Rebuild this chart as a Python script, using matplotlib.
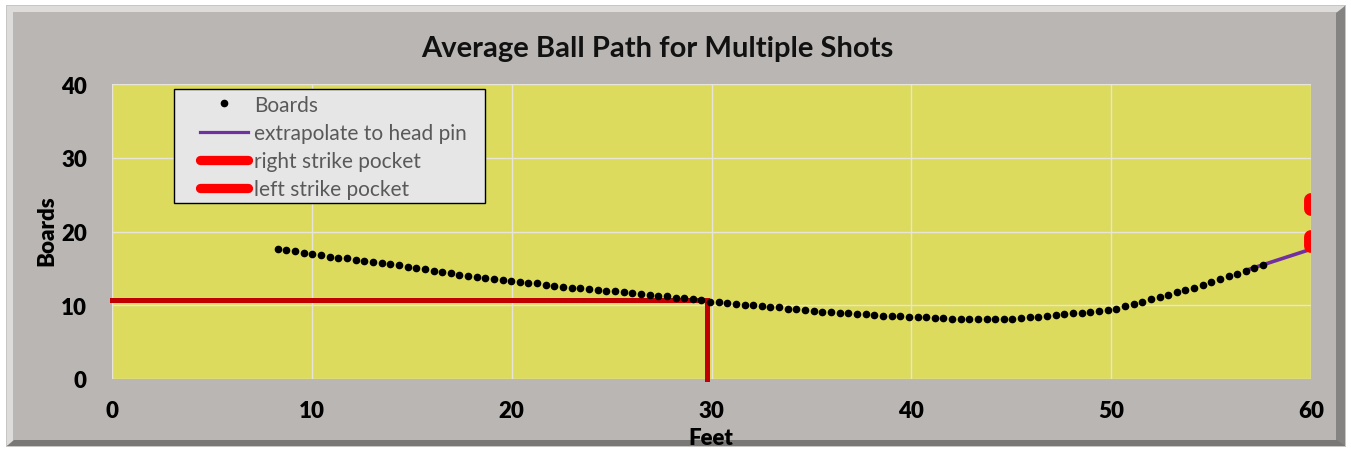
import matplotlib
matplotlib.use("Agg")
import matplotlib.pyplot as plt
from matplotlib.patches import Rectangle, Polygon
from matplotlib.transforms import IdentityTransform

# ---------------- data ----------------
feet = [8.30, 8.73, 9.17, 9.60, 10.03, 10.46, 10.90, 11.33, 11.76, 12.19,
        12.63, 13.06, 13.49, 13.92, 14.36, 14.79, 15.22, 15.65, 16.09, 16.52,
        16.95, 17.38, 17.82, 18.25, 18.68, 19.11, 19.55, 19.98, 20.41, 20.84,
        21.28, 21.71, 22.14, 22.57, 23.01, 23.44, 23.87, 24.30, 24.74, 25.17,
        25.60, 26.03, 26.47, 26.90, 27.33, 27.76, 28.20, 28.63, 29.06, 29.49,
        29.93, 30.36, 30.79, 31.22, 31.66, 32.09, 32.52, 32.95, 33.39, 33.82,
        34.25, 34.68, 35.12, 35.55, 35.98, 36.41, 36.85, 37.28, 37.71, 38.14,
        38.58, 39.01, 39.44, 39.87, 40.31, 40.74, 41.17, 41.60, 42.04, 42.47,
        42.90, 43.33, 43.77, 44.20, 44.63, 45.06, 45.50, 45.93, 46.36, 46.79,
        47.23, 47.66, 48.09, 48.52, 48.96, 49.39, 49.82, 50.25, 50.69, 51.12,
        51.55, 51.98, 52.42, 52.85, 53.28, 53.71, 54.15, 54.58, 55.01, 55.44,
        55.88, 56.31, 56.74, 57.17, 57.61]
boards = [17.60, 17.45, 17.30, 17.05, 16.90, 16.75, 16.60, 16.45, 16.35, 16.20,
          16.05, 15.90, 15.75, 15.60, 15.40, 15.20, 15.00, 14.85, 14.70, 14.55,
          14.35, 14.15, 13.95, 13.85, 13.75, 13.60, 13.45, 13.30, 13.20, 13.05,
          12.95, 12.80, 12.65, 12.50, 12.40, 12.30, 12.20, 12.05, 12.00, 11.90,
          11.80, 11.65, 11.55, 11.40, 11.30, 11.20, 11.05, 10.95, 10.80, 10.65,
          10.50, 10.40, 10.30, 10.20, 10.10, 10.00, 9.90, 9.80, 9.70, 9.55,
          9.45, 9.35, 9.25, 9.15, 9.10, 9.00, 8.90, 8.80, 8.75, 8.70,
          8.60, 8.55, 8.50, 8.45, 8.40, 8.35, 8.30, 8.25, 8.20, 8.15,
          8.15, 8.10, 8.15, 8.10, 8.15, 8.20, 8.25, 8.35, 8.45, 8.55,
          8.65, 8.80, 8.90, 9.00, 9.10, 9.25, 9.35, 9.55, 9.85, 10.15,
          10.45, 10.80, 11.10, 11.40, 11.75, 12.10, 12.40, 12.75, 13.10, 13.55,
          13.95, 14.30, 14.70, 15.10, 15.50]

extrap_feet = [56.7, 60.0]
extrap_boards = [14.7, 17.6]

right_pocket_feet = [60.0, 60.0]
right_pocket_boards = [18.0, 19.3]
left_pocket_feet = [60.0, 60.0]
left_pocket_boards = [23.0, 24.3]

target_feet = [0.0, 29.75, 29.75]
target_boards = [10.7, 10.7, 0.0]

x_ticks = [0, 10, 20, 30, 40, 50, 60]
y_ticks = [0, 10, 20, 30, 40]

title = "Average Ball Path for Multiple Shots"
x_label = "Feet"
y_label = "Boards"

# ---------------- style ----------------
W, H = 1351, 452
FONT = "Lato"
GRAY = "#bab6b4"
YELLOW = "#dcdb5e"

fig = plt.figure(figsize=(W / 100, H / 100), dpi=100)
fig.patch.set_facecolor("white")

ident = IdentityTransform()


def rect(x0, y0, x1, y1, color, z=0, edge="none", lw=0):
    p = Rectangle((x0, H - y1), x1 - x0, y1 - y0, transform=ident,
                  facecolor=color, edgecolor=edge, linewidth=lw, zorder=z)
    fig.patches.append(p)
    return p


def poly(pts, color, z=0):
    p = Polygon([(x, H - y) for x, y in pts], closed=True, transform=ident,
                facecolor=color, edgecolor="none", zorder=z)
    fig.patches.append(p)


# frame with bevel
rect(6, 6, 1346, 448, "#c8c6c5", z=0)
poly([(7, 7), (1345, 7), (1332, 20), (20, 20), (20, 435), (7, 447)], "#dedcdb", z=1)
poly([(1345, 7), (1345, 447), (7, 447), (20, 440), (1336, 440), (1336, 20)], "#6f6d6c", z=1)
rect(13, 13, 1339, 443, GRAY, z=1.5)
poly([(1336, 14), (1345, 7), (1345, 447), (1336, 441)], "#858382", z=1.8)
poly([(14, 441), (7, 447), (1345, 447), (1337, 441)], "#7a7877", z=1.8)
rect(14, 14, 1336, 441, GRAY, z=2)

ax = fig.add_axes([112 / W, 1 - 380 / H, (1311 - 112) / W, (380 - 85) / H])
ax.set_facecolor(YELLOW)
ax.set_zorder(5)

ax.set_xlim(0, 60)
ax.set_ylim(0, 40)
ax.set_xticks(x_ticks)
ax.set_yticks(y_ticks)
ax.grid(True, color="#e8e5d8", linewidth=1.0, zorder=0)
ax.set_axisbelow(True)
for s in ax.spines.values():
    s.set_visible(False)
ax.tick_params(length=0, labelsize=16, colors="black")
ax.tick_params(axis="y", pad=18)
ax.tick_params(axis="x", pad=15)
for lab in ax.get_xticklabels() + ax.get_yticklabels():
    lab.set_fontfamily(FONT)
    lab.set_fontweight("heavy")

ax.plot(target_feet, target_boards, color="#c00000", linewidth=3.6,
        solid_joinstyle="miter", clip_on=False, zorder=3)
l_ex, = ax.plot(extrap_feet, extrap_boards, color="#7030a0", linewidth=2.6,
                zorder=3, label="extrapolate to head pin")
l_b, = ax.plot(feet, boards, linestyle="none", marker="o", markersize=4.5,
               color="black", zorder=4, label="Boards")
l_r, = ax.plot(right_pocket_feet, right_pocket_boards, color="#ff0000",
               linewidth=10, solid_capstyle="round", zorder=4,
               label="right strike pocket")
l_l, = ax.plot(left_pocket_feet, left_pocket_boards, color="#ff0000",
               linewidth=10, solid_capstyle="round", zorder=4,
               label="left strike pocket")

# legend box (drawn separately for the wide horizontal padding)
box = Rectangle(((174 - 112) / 1199, (380 - 204) / 295),
                (485 - 174) / 1199, (204 - 90) / 295,
                transform=ax.transAxes, facecolor="#e6e6e6",
                edgecolor="black", linewidth=1.0, zorder=6)
ax.add_patch(box)

leg = ax.legend(handles=[l_b, l_ex, l_r, l_l], loc="upper left",
                bbox_to_anchor=((200 - 112) / 1199, (380 - 95.5) / 295),
                borderaxespad=0, frameon=False,
                prop={"family": FONT, "size": 15}, handlelength=2.3,
                handletextpad=0.3, labelspacing=0.40, borderpad=0)
leg.set_zorder(7)
for t in leg.get_texts():
    t.set_color("#595959")
lines = leg.get_lines()
lines[2].set_linewidth(6.7)
lines[3].set_linewidth(6.7)
lines[1].set_linewidth(2.3)

fig.text(657 / W, 1 - 49 / H, title, ha="center", va="center",
         fontsize=21, fontweight="bold", family=FONT, color="#111111", zorder=6)
fig.text(711 / W, 1 - 439 / H, x_label, ha="center", va="center",
         fontsize=16, fontweight="heavy", family=FONT, color="black", zorder=6)
fig.text(47 / W, 1 - 231 / H, y_label, ha="center", va="center",
         rotation=90, fontsize=16, fontweight="heavy", family=FONT,
         color="black", zorder=6)

fig.savefig("out.png", dpi=100)
